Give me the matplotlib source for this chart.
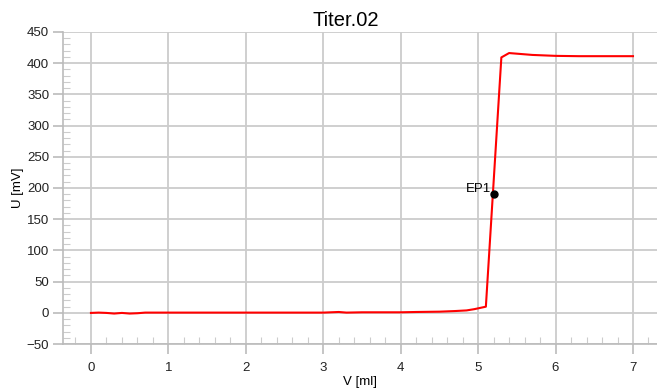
import matplotlib
matplotlib.use('Agg')
import matplotlib.pyplot as plt
from matplotlib.ticker import MultipleLocator

plt.rcParams['font.family'] = ['Liberation Sans', 'DejaVu Sans']

# titration curve
volume = [0.0, 0.1, 0.2, 0.3, 0.4, 0.5, 0.6, 0.7, 1.0, 1.5, 2.0, 2.5, 3.0,
          3.2, 3.3, 3.5, 4.0, 4.2, 4.5, 4.7, 4.85, 4.95, 5.1, 5.3, 5.4,
          5.5, 5.7, 5.9, 6.0, 6.3, 6.6, 7.0]
potential = [0.0, 0.5, 0.0, -1.0, 0.0, -1.0, -0.5, 0.5, 0.5, 0.5, 0.5, 0.5, 0.5,
             1.5, 0.5, 1.0, 1.0, 1.5, 2.0, 3.0, 4.0, 6.0, 10.0, 409.0, 416.0,
             415.0, 413.0, 412.0, 411.5, 411.0, 411.0, 411.0]

ep_label = 'EP1'
ep_volume = 5.2
ep_potential = 191

title = 'Titer.02'
x_label = 'V [ml]'
y_label = 'U [mV]'


def main():
    fig = plt.figure(figsize=(6.57, 3.88), dpi=100)
    ax = fig.add_axes([0.096, 0.113, 0.904, 0.805])

    ax.plot(volume, potential, color='#ff0000', lw=1.5, zorder=3)
    ax.plot(ep_volume, ep_potential, 'o', color='black', ms=5, zorder=4)
    ax.annotate(ep_label, (ep_volume, ep_potential), xytext=(-2, 1),
                textcoords='offset points', ha='right', va='baseline', fontsize=9.5)

    ax.set_xlim(-0.36, 7.31)
    ax.set_ylim(-50, 450)
    ax.xaxis.set_major_locator(MultipleLocator(1))
    ax.xaxis.set_minor_locator(MultipleLocator(0.2))
    ax.yaxis.set_major_locator(MultipleLocator(50))
    ax.yaxis.set_minor_locator(MultipleLocator(10))

    ax.grid(True, which='major', color='#cccccc', lw=1.3)
    ax.set_axisbelow(True)
    for side in ('top', 'right'):
        ax.spines[side].set_visible(False)
    for side in ('left', 'bottom'):
        ax.spines[side].set_color('#bbbbbb')
        ax.spines[side].set_linewidth(1.2)

    ax.tick_params(which='major', length=7, color='#bbbbbb', width=1.2,
                   labelsize=9.5, labelcolor='#222222')
    ax.tick_params(which='minor', direction='in', length=5, color='#cccccc', width=0.8)
    ax.tick_params(axis='x', which='major', pad=6)
    ax.tick_params(axis='y', which='major', pad=3)

    ax.set_title(title, fontsize=14.5, pad=4, x=0.476)
    ax.set_xlabel(x_label, fontsize=9.5, labelpad=1)
    ax.set_ylabel(y_label, fontsize=9.5, labelpad=2)

    fig.savefig('out.png', dpi=100)


if __name__ == '__main__':
    main()
